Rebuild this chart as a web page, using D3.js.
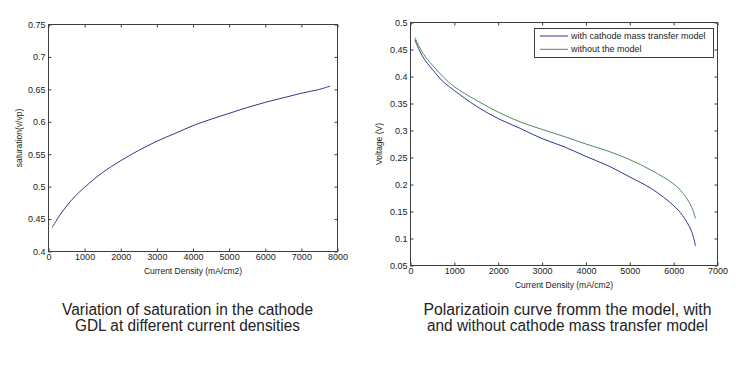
<!DOCTYPE html>
<html>
<head>
<meta charset="utf-8">
<script src="https://cdn.jsdelivr.net/npm/d3@7"></script>
<style>
  body { margin: 0; background: #fff; }
  svg { display: block; font-family: "Liberation Sans", Arial, sans-serif; }
</style>
</head>
<body>
<svg id="chart" width="755" height="371"></svg>
<script>
// left chart: saturation vs current density
const satX = [100, 200, 300, 500, 750, 1000, 1500, 2000, 2500, 3000, 3500, 4000, 4500, 5000, 5500, 6000, 6500, 7000, 7500, 7800]
const satY = [0.437, 0.446, 0.455, 0.470, 0.486, 0.499, 0.522, 0.540, 0.556, 0.570, 0.582, 0.594, 0.604, 0.613, 0.622, 0.630, 0.637, 0.644, 0.650, 0.655]

// right chart: polarization curves
const polX = [100, 200, 300, 500, 750, 1000, 1500, 2000, 2500, 3000, 3500, 4000, 4500, 5000, 5500, 6000, 6200, 6400, 6500]
const withModel = [0.468, 0.449, 0.434, 0.413, 0.390, 0.374, 0.345, 0.322, 0.304, 0.285, 0.270, 0.252, 0.235, 0.214, 0.192, 0.161, 0.143, 0.115, 0.086]
const withoutModel = [0.472, 0.455, 0.441, 0.421, 0.399, 0.381, 0.356, 0.334, 0.316, 0.302, 0.289, 0.275, 0.262, 0.246, 0.226, 0.201, 0.185, 0.160, 0.137]

const seriesNames = ['with cathode mass transfer model', 'without the model']
const seriesColors = ['#35358f', '#4f8a62']

const leftXTicks = d3.range(0, 8001, 1000)
const leftYTicks = [0.4, 0.45, 0.5, 0.55, 0.6, 0.65, 0.7, 0.75]
const rightXTicks = d3.range(0, 7001, 1000)
const rightYTicks = [0.05, 0.1, 0.15, 0.2, 0.25, 0.3, 0.35, 0.4, 0.45, 0.5]

const captions = [
  ['Variation of saturation in the cathode', 'GDL at different current densities'],
  ['Polarizatioin curve fromm the model, with', 'and without cathode mass transfer model']
]

const svg = d3.select('#chart')
const axisColor = '#3c3c3c'
const fmt = d => String(+d.toFixed(2))

function drawPanel(box, xDomain, yDomain, xTicks, yTicks, xLabel, yLabel, yLabelX) {
  const x = d3.scaleLinear().domain(xDomain).range([box.l, box.r])
  const y = d3.scaleLinear().domain(yDomain).range([box.b, box.t])
  const g = svg.append('g')

  // tick marks inside on all four sides (matlab style)
  const mk = (axis, tr) => {
    const a = g.append('g').attr('transform', tr).call(axis)
    a.select('.domain').remove()
    a.selectAll('line').attr('stroke', axisColor)
    a.selectAll('text').attr('fill', '#222').style('font-size', '9px')
    return a
  }
  mk(d3.axisBottom(x).tickValues(xTicks).tickSize(-3).tickPadding(2).tickFormat(d3.format('d')), `translate(0,${box.b})`)
    .selectAll('text').attr('dy', '0.75em')
  mk(d3.axisTop(x).tickValues(xTicks).tickSize(-3).tickFormat(''), `translate(0,${box.t})`)
  mk(d3.axisLeft(y).tickValues(yTicks).tickSize(-3).tickPadding(3).tickFormat(fmt), `translate(${box.l},0)`)
  mk(d3.axisRight(y).tickValues(yTicks).tickSize(-3).tickFormat(''), `translate(${box.r},0)`)

  g.append('rect')
    .attr('x', box.l).attr('y', box.t)
    .attr('width', box.r - box.l).attr('height', box.b - box.t)
    .attr('fill', 'none').attr('stroke', axisColor).attr('stroke-width', 1)

  g.append('text')
    .attr('x', (box.l + box.r) / 2).attr('y', box.b + 22)
    .attr('text-anchor', 'middle').style('font-size', '8.5px').attr('fill', '#222')
    .text(xLabel)
  g.append('text')
    .attr('transform', `translate(${yLabelX},${(box.t + box.b) / 2}) rotate(-90)`)
    .attr('text-anchor', 'middle').style('font-size', '8.5px').attr('fill', '#222')
    .text(yLabel)
  return { x, y, g }
}

// left panel
const L = drawPanel({ l: 48.5, r: 337.5, t: 24.5, b: 251.5 }, [0, 8000], [0.4, 0.75],
  leftXTicks, leftYTicks, 'Current Density (mA/cm2)', 'saturation(v/vp)', 22)
L.g.append('path')
  .datum(d3.zip(satX, satY))
  .attr('fill', 'none').attr('stroke', seriesColors[0]).attr('stroke-width', 1)
  .attr('d', d3.line().x(d => L.x(d[0])).y(d => L.y(d[1])).curve(d3.curveCatmullRom))

// right panel
const R = drawPanel({ l: 410.5, r: 717.5, t: 22.5, b: 265.5 }, [0, 7000], [0.05, 0.5],
  rightXTicks, rightYTicks, 'Current Density (mA/cm2)', 'Voltage (V)', 382)
const series = [withModel, withoutModel]
series.forEach((vals, i) => {
  R.g.append('path')
    .datum(d3.zip(polX, vals))
    .attr('fill', 'none').attr('stroke', seriesColors[i]).attr('stroke-width', 1)
    .attr('d', d3.line().x(d => R.x(d[0])).y(d => R.y(d[1])).curve(d3.curveCatmullRom))
})

// legend
const lg = R.g.append('g')
lg.append('rect').attr('x', 534.5).attr('y', 28.5).attr('width', 179).attr('height', 29)
  .attr('fill', '#fff').attr('stroke', axisColor)
seriesNames.forEach((name, i) => {
  const ly = 36 + i * 13.3
  lg.append('line').attr('x1', 540).attr('x2', 568).attr('y1', ly).attr('y2', ly)
    .attr('stroke', seriesColors[i]).attr('stroke-width', 1)
  lg.append('text').attr('x', 571).attr('y', ly).attr('dy', '0.35em')
    .style('font-size', '9px').attr('fill', '#222').text(name)
})

// captions under each panel
const capSpec = [
  { cx: 187.5, widths: [251, 225] },
  { cx: 567.5, widths: [288, 281] }
]
captions.forEach((lines, i) => {
  lines.forEach((t, j) => {
    svg.append('text')
      .attr('x', capSpec[i].cx).attr('y', 315 + j * 15.5)
      .attr('text-anchor', 'middle')
      .attr('textLength', capSpec[i].widths[j]).attr('lengthAdjust', 'spacingAndGlyphs')
      .style('font-family', '"Liberation Sans Narrow", "Liberation Sans", Arial, sans-serif')
      .style('font-size', '16px').attr('fill', '#222')
      .text(t)
  })
})
</script>
</body>
</html>
